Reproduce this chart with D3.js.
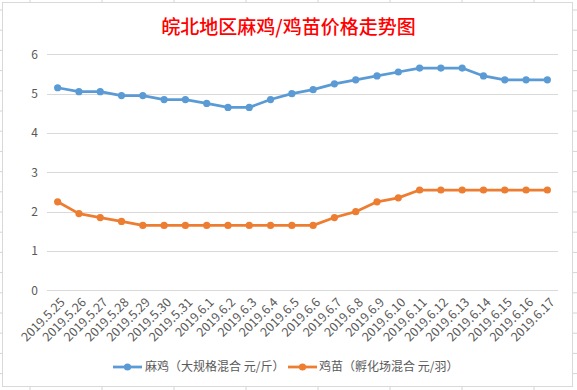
<!DOCTYPE html>
<html><head><meta charset="utf-8">
<script src="https://cdn.jsdelivr.net/npm/d3@7"></script>
<style>
html,body{margin:0;padding:0;background:#fff;}
svg{display:block;}
text{font-family:"Noto Sans CJK SC","Noto Sans",sans-serif;}
</style></head>
<body>
<svg id="chart" width="577" height="390"></svg>
<script>
const title = "皖北地区麻鸡/鸡苗价格走势图";
const dates = ["2019.5.25","2019.5.26","2019.5.27","2019.5.28","2019.5.29","2019.5.30","2019.5.31","2019.6.1","2019.6.2","2019.6.3","2019.6.4","2019.6.5","2019.6.6","2019.6.7","2019.6.8","2019.6.9","2019.6.10","2019.6.11","2019.6.12","2019.6.13","2019.6.14","2019.6.15","2019.6.16","2019.6.17"];
const maJi = [5.15,5.05,5.05,4.95,4.95,4.85,4.85,4.75,4.65,4.65,4.85,5.0,5.1,5.25,5.35,5.45,5.55,5.65,5.65,5.65,5.45,5.35,5.35,5.35];
const jiMiao = [2.25,1.95,1.85,1.75,1.65,1.65,1.65,1.65,1.65,1.65,1.65,1.65,1.65,1.85,2.0,2.25,2.35,2.55,2.55,2.55,2.55,2.55,2.55,2.55];
const yTicks = [0,1,2,3,4,5,6];
const seriesNames = ["麻鸡（大规格混合 元/斤）","鸡苗（孵化场混合 元/羽）"];
const colors = ["#5B9BD5","#ED7D31"];

const svg = d3.select("#chart");
const W = 577, H = 390;

// spreadsheet-like tick marks outside chart area
const gridCol = "#d4d4d4";
const colX = d3.range(30, W, 72);
const rowY = d3.range(10, H, 20.2);
colX.forEach(x => {
  svg.append("line").attr("x1", x).attr("x2", x).attr("y1", 0).attr("y2", 2.5).attr("stroke", gridCol);
  svg.append("line").attr("x1", x).attr("x2", x).attr("y1", 386.5).attr("y2", H).attr("stroke", gridCol);
});
rowY.forEach(y => {
  svg.append("line").attr("x1", 0).attr("x2", 2.5).attr("y1", y).attr("y2", y).attr("stroke", gridCol);
  svg.append("line").attr("x1", 572.5).attr("x2", W).attr("y1", y).attr("y2", y).attr("stroke", gridCol);
});
svg.append("rect").attr("x", 2.5).attr("y", 2.5).attr("width", 570).attr("height", 384)
  .attr("fill", "#fff").attr("stroke", "#d9d9d9").attr("stroke-width", 1);

// title
svg.append("text").attr("x", 288.5).attr("y", 34).attr("text-anchor", "middle")
  .attr("fill", "#FF0000").attr("font-size", 19).attr("font-weight", 500).text(title);

const x = d3.scaleBand().domain(dates).range([47, 558]);
const y = d3.scaleLinear().domain([0, 6]).range([290.3, 54.3]);

// gridlines
const grid = svg.append("g");
grid.selectAll("line").data(yTicks).join("line")
  .attr("x1", 47).attr("x2", 558)
  .attr("y1", d => Math.round(y(d)) + 0.5).attr("y2", d => Math.round(y(d)) + 0.5)
  .attr("stroke", "#d9d9d9").attr("stroke-width", 1);

// y labels
const yAxis = d3.axisLeft(y).tickValues(yTicks).tickFormat(d3.format("d")).tickSize(0).tickPadding(0);
const gy = svg.append("g").attr("transform", "translate(38,0)").call(yAxis);
gy.select(".domain").remove();
gy.selectAll("text").attr("fill", "#595959").attr("font-size", 12)
  .attr("font-family", "Calibri, Carlito, 'Liberation Sans', sans-serif");

// x labels
const xl = svg.append("g");
xl.selectAll("text").data(dates).join("text")
  .attr("transform", d => `translate(${x(d) + x.bandwidth()/2 + 5},${300}) rotate(-45)`)
  .attr("text-anchor", "end").attr("dy", "0.35em")
  .attr("fill", "#595959").attr("font-size", 12.5)
  .attr("font-family", "'Liberation Sans', Arial, sans-serif")
  .text(d => d);

// lines
const cx = d => x(d) + x.bandwidth()/2;
[maJi, jiMiao].forEach((vals, i) => {
  const line = d3.line().x((d, j) => cx(dates[j])).y(d => y(d));
  svg.append("path").datum(vals).attr("d", line).attr("fill", "none")
    .attr("stroke", colors[i]).attr("stroke-width", 2.75).attr("stroke-linejoin", "round");
  svg.append("g").selectAll("circle").data(vals).join("circle")
    .attr("cx", (d, j) => cx(dates[j])).attr("cy", d => y(d)).attr("r", 3.6)
    .attr("fill", colors[i]);
});

// legend
const legendItems = [{x: 113, tx: 145}, {x: 288, tx: 319}];
legendItems.forEach((it, i) => {
  const g = svg.append("g");
  g.append("line").attr("x1", it.x).attr("x2", it.x + 29).attr("y1", 367).attr("y2", 367)
    .attr("stroke", colors[i]).attr("stroke-width", 2.75);
  g.append("circle").attr("cx", it.x + 14.5).attr("cy", 367).attr("r", 3.6).attr("fill", colors[i]);
  g.append("text").attr("x", it.tx).attr("y", 367).attr("dy", "0.35em")
    .attr("fill", "#595959").attr("font-size", 12).text(seriesNames[i]);
});
</script>
</body></html>
